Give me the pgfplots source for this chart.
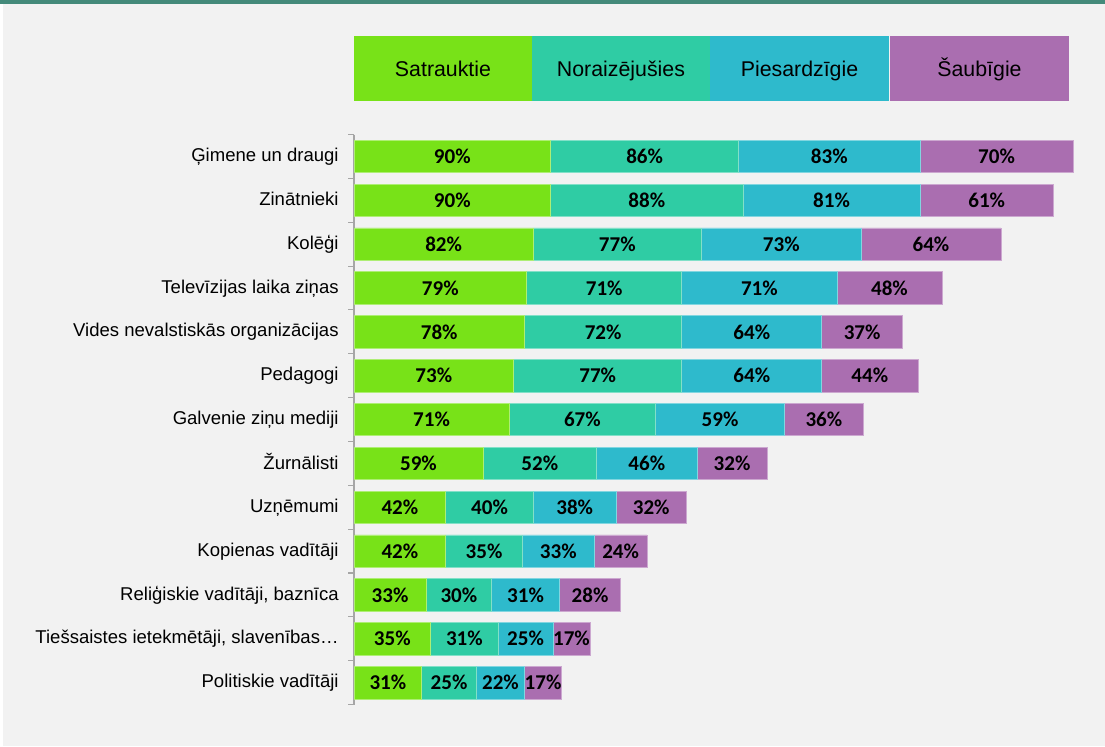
\documentclass[border=0pt]{standalone}
\usepackage{fontspec}
\setmainfont{Liberation Sans}
\newfontfamily\carlito{Carlito}
\usepackage{pgfplots}
\usepackage{pgfplotstable}
\pgfplotsset{compat=1.18}

\definecolor{cSat}{HTML}{78E218}
\definecolor{cNor}{HTML}{2FCCA4}
\definecolor{cPie}{HTML}{2EBACC}
\definecolor{cSau}{HTML}{AA6EB0}
\definecolor{bg}{HTML}{F2F2F2}
\definecolor{band}{HTML}{448A7A}
\definecolor{axisgray}{HTML}{A6A6A6}

% trust by audience segment, %
\pgfplotstableread{
idx sat nor pie sau
0  90 86 83 70
1  90 88 81 61
2  82 77 73 64
3  79 71 71 48
4  78 72 64 37
5  73 77 64 44
6  71 67 59 36
7  59 52 46 32
8  42 40 38 32
9  42 35 33 24
10 33 30 31 28
11 35 31 25 17
12 31 25 22 17
}\trust

\begin{document}
\begin{tikzpicture}
% page frame, in pixels (1px = 0.75pt, y downwards)
\begin{scope}[x=0.75pt,y=-0.75pt]
\useasboundingbox (0,0) rectangle (1105,746);
\fill[bg] (0,0) rectangle (1105,746);
\fill[white] (0,0) rectangle (3,746);
\fill[band] (0,0) rectangle (1105,4);
\begin{scope}[every node/.style={font=\fontsize{16}{19}\selectfont, text=black, anchor=base}]
\fill[cSat] (354,36) rectangle (532,101);
\node at (443,76) {Satrauktie};
\fill[cNor] (532,36) rectangle (710,101);
\node at (621,76) {Noraizējušies};
\fill[cPie] (710,36) rectangle (889,101);
\node at (799.5,76) {Piesardzīgie};
\fill[cSau] (890,36) rectangle (1069,101);
\node at (979.5,76) {Šaubīgie};
\end{scope}
\end{scope}

\begin{axis}[
  at={(265.5pt,-100.9pt)}, anchor=north west,
  scale only axis, width=539.25pt, height=427.5pt,
  xbar stacked, bar width=0.74,
  xmin=0, xmax=329, ymin=-0.5, ymax=12.5, y dir=reverse,
  axis x line=none, axis y line*=left,
  y axis line style={draw=axisgray, line width=0.8pt},
  ytick={0,...,12},
  yticklabels={{Ģimene un draugi},{Zinātnieki},{Kolēģi},{Televīzijas laika ziņas},
    {Vides nevalstiskās organizācijas},{Pedagogi},{Galvenie ziņu mediji},{Žurnālisti},
    {Uzņēmumi},{Kopienas vadītāji},{Reliģiskie vadītāji, baznīca},
    {Tiešsaistes ietekmētāji, slavenības…},{Politiskie vadītāji}},
  typeset ticklabels with strut,
  major tick length=0pt,
  minor ytick={-0.5,0.5,...,12.5}, minor tick length=4.5pt, tick align=outside,
  minor tick style={draw=axisgray, line width=0.8pt},
  yticklabel style={font=\fontsize{13.9}{16}\selectfont, anchor=east, xshift=-8pt, yshift=-0.6pt},
  /pgf/number format/assume math mode=true,
  nodes near coords={\pgfmathprintnumber{\segv}\%},
  every node near coord/.append style={font=\carlito\bfseries\fontsize{15.8}{18}\selectfont,
    text=black, anchor=center},
  seg/.style={visualization depends on={\thisrow{#1}\as\segv}},
  clip=false,
]
\addplot[fill=cSat, draw=cSat!60!white, line width=0.5pt, seg=sat] table[x=sat,y=idx]{\trust};
\addplot[fill=cNor, draw=cNor!60!white, line width=0.5pt, seg=nor] table[x=nor,y=idx]{\trust};
\addplot[fill=cPie, draw=cPie!60!white, line width=0.5pt, seg=pie] table[x=pie,y=idx]{\trust};
\addplot[fill=cSau, draw=cSau!60!white, line width=0.5pt, seg=sau] table[x=sau,y=idx]{\trust};
\end{axis}
\end{tikzpicture}
\end{document}
